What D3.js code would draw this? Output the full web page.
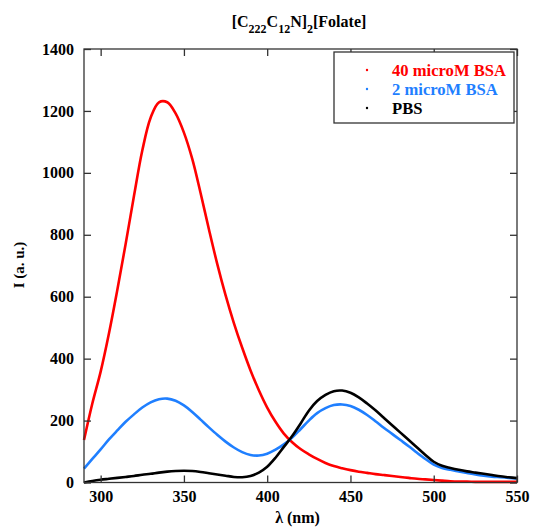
<!DOCTYPE html>
<html>
<head>
<meta charset="utf-8">
<script src="https://cdn.jsdelivr.net/npm/d3@7"></script>
<style>
  html, body { margin: 0; padding: 0; background: #fff; }
  svg { display: block; font-family: "Liberation Serif", "Times New Roman", serif; font-weight: bold; }
</style>
</head>
<body>
<div id="chart"></div>
<script>
// wavelength grid (nm) shared by the three spectra
const wavelengths = d3.range(290, 551, 5);

// fluorescence intensity (a.u.)
const bsa40 = [137, 255, 358, 482, 622, 770, 925, 1072, 1178, 1228, 1228, 1192, 1130, 1045, 935,
  818, 706, 605, 515, 435, 362, 298, 242, 196, 158, 130, 108, 91, 76, 63, 53, 46, 40, 35, 31,
  27, 24, 21, 18, 15, 12, 10, 8, 6, 4, 3, 3, 2, 2, 2, 2, 2, 2];
const bsa2 = [45, 76, 107, 139, 168, 196, 220, 242, 259, 269, 271, 264, 249, 228, 203, 178, 154,
  132, 113, 98, 89, 87, 93, 106, 123, 145, 172, 200, 224, 240, 250, 252, 247, 235, 218, 198, 177,
  157, 137, 117, 96, 76, 58, 47, 41, 36, 31, 26, 22, 19, 17, 15, 13];
const pbs = [0, 5, 9, 12, 15, 18, 21, 25, 28, 32, 35, 37, 38, 37, 34, 30, 26, 22, 18, 17, 21, 32,
  51, 80, 115, 150, 190, 232, 263, 283, 295, 297, 290, 275, 255, 233, 209, 185, 161, 137, 113,
  89, 67, 54, 47, 41, 36, 32, 28, 24, 20, 17, 14];

const seriesNames = ['40 microM BSA', '2 microM BSA', 'PBS'];
const seriesValues = [bsa40, bsa2, pbs];
const seriesColours = ['#ff0000', '#1f7fff', '#000000'];

const xTicks = [300, 350, 400, 450, 500, 550];
const yTicks = [0, 200, 400, 600, 800, 1000, 1200, 1400];

const width = 534;
const height = 532;
const margin = { top: 49, right: 17, bottom: 49.5, left: 84 };

const x = d3.scaleLinear().domain([290, 550]).range([margin.left, width - margin.right]);
const y = d3.scaleLinear().domain([0, 1400]).range([height - margin.bottom, margin.top]);

const svg = d3.select('#chart').append('svg').attr('width', width).attr('height', height);

// curves
const line = d3
  .line()
  .x((d) => x(d[0]))
  .y((d) => y(d[1]))
  .curve(d3.curveCatmullRom.alpha(0.5));

seriesValues.forEach((values, i) => {
  svg
    .append('path')
    .datum(wavelengths.map((w, j) => [w, values[j]]))
    .attr('fill', 'none')
    .attr('stroke', seriesColours[i])
    .attr('stroke-width', 2.6)
    .attr('stroke-linejoin', 'round')
    .attr('d', line);
});

// axes with inward ticks on all four sides
const bottom = height - margin.bottom;
const right = width - margin.right;
const fmt = d3.format('d');

svg
  .append('g')
  .attr('transform', `translate(0,${bottom})`)
  .call(d3.axisBottom(x).tickValues(xTicks).tickFormat(fmt).tickSizeInner(-7).tickSizeOuter(0).tickPadding(8))
  .call((g) => g.select('.domain').remove());

svg
  .append('g')
  .attr('transform', `translate(${margin.left},0)`)
  .call(d3.axisLeft(y).tickValues(yTicks).tickFormat(fmt).tickSizeInner(-7).tickSizeOuter(0).tickPadding(10))
  .call((g) => g.select('.domain').remove());

svg
  .append('g')
  .attr('transform', `translate(0,${margin.top})`)
  .call(d3.axisTop(x).tickValues(xTicks).tickSizeInner(-7).tickSizeOuter(0).tickFormat(''))
  .call((g) => g.select('.domain').remove());

svg
  .append('g')
  .attr('transform', `translate(${right},0)`)
  .call(d3.axisRight(y).tickValues(yTicks).tickSizeInner(-7).tickSizeOuter(0).tickFormat(''))
  .call((g) => g.select('.domain').remove());

svg.selectAll('.tick line').attr('stroke', '#333').attr('stroke-width', 1.3);
svg
  .selectAll('.tick text')
  .attr('fill', '#000')
  .style('font-family', '"Liberation Serif", "Times New Roman", serif')
  .style('font-weight', 'bold')
  .style('font-size', '16px');

svg
  .append('rect')
  .attr('x', margin.left)
  .attr('y', margin.top)
  .attr('width', right - margin.left)
  .attr('height', bottom - margin.top)
  .attr('fill', 'none')
  .attr('stroke', '#333')
  .attr('stroke-width', 1.3);

// legend
const legend = svg.append('g').attr('transform', 'translate(334,52)');
legend
  .append('rect')
  .attr('width', 180)
  .attr('height', 71)
  .attr('fill', '#fff')
  .attr('stroke', '#333')
  .attr('stroke-width', 1.3);

seriesNames.forEach((name, i) => {
  const row = legend.append('g').attr('transform', `translate(0,${18 + i * 19})`);
  row.append('circle').attr('cx', 33).attr('cy', 0).attr('r', 1.2).attr('fill', seriesColours[i]);
  row
    .append('text')
    .attr('x', 58)
    .attr('y', 5.5)
    .attr('fill', seriesColours[i])
    .style('font-size', '16.6px')
    .text(name);
});

// title with subscripts
const title = svg
  .append('text')
  .attr('x', 299)
  .attr('y', 27)
  .attr('text-anchor', 'middle')
  .style('font-size', '16px');
const titleParts = [
  ['[C', false],
  ['222', true],
  ['C', false],
  ['12', true],
  ['N]', false],
  ['2', true],
  ['[Folate]', false]
];
titleParts.forEach(([t, sub]) => {
  title
    .append('tspan')
    .attr('dy', sub ? 6 : -6)
    .style('font-size', sub ? '12px' : '16px')
    .text(t);
});
title.select('tspan').attr('dy', 0);

// axis labels
svg
  .append('text')
  .attr('x', (margin.left + right) / 2 - 3)
  .attr('y', 523)
  .attr('text-anchor', 'middle')
  .style('font-size', '16px')
  .text('λ (nm)');

svg
  .append('text')
  .attr('transform', 'translate(24,265) rotate(-90)')
  .attr('text-anchor', 'middle')
  .style('font-size', '15px')
  .text('I (a. u.)');
</script>
</body>
</html>
